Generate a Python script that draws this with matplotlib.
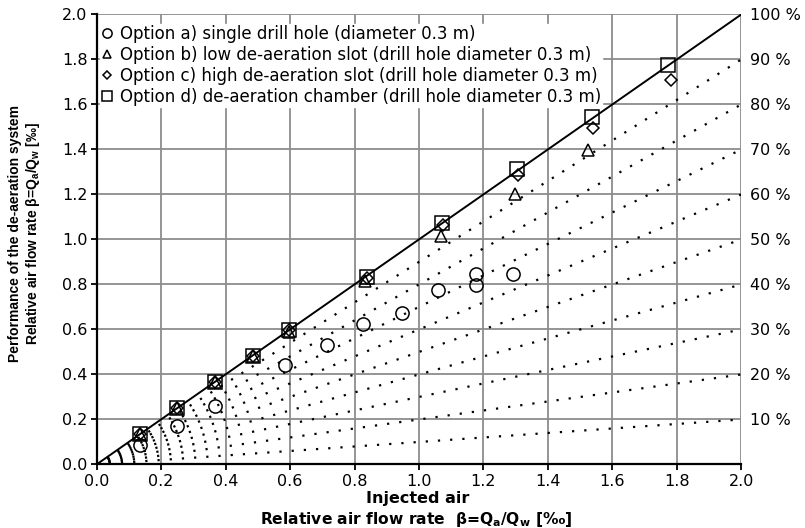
import matplotlib
matplotlib.use('Agg')
import matplotlib.pyplot as plt

plt.rcParams['font.family'] = ['DejaVu Sans']
plt.rcParams['mathtext.default'] = 'regular'

# option a) single drill hole
a_x = [0.135, 0.25, 0.367, 0.585, 0.714, 0.827, 0.946, 1.06, 1.176, 1.176, 1.29]
a_y = [0.087, 0.172, 0.261, 0.442, 0.531, 0.623, 0.675, 0.776, 0.847, 0.798, 0.847]
# option b) low de-aeration slot
b_x = [0.135, 0.25, 0.367, 0.486, 0.597, 0.833, 1.068, 1.298, 1.525]
b_y = [0.136, 0.252, 0.368, 0.482, 0.59, 0.813, 1.016, 1.202, 1.398]
# option c) high de-aeration slot
c_x = [0.135, 0.25, 0.367, 0.486, 0.597, 0.84, 1.075, 1.308, 1.54, 1.78]
c_y = [0.136, 0.252, 0.368, 0.482, 0.598, 0.83, 1.064, 1.287, 1.494, 1.706]
# option d) de-aeration chamber
d_x = [0.135, 0.25, 0.367, 0.486, 0.597, 0.84, 1.07, 1.303, 1.535, 1.773]
d_y = [0.136, 0.252, 0.368, 0.482, 0.598, 0.835, 1.072, 1.313, 1.543, 1.776]

labels = ['Option a) single drill hole (diameter 0.3 m)',
          'Option b) low de-aeration slot (drill hole diameter 0.3 m)',
          'Option c) high de-aeration slot (drill hole diameter 0.3 m)',
          'Option d) de-aeration chamber (drill hole diameter 0.3 m)']

ratios = [0.1, 0.2, 0.3, 0.4, 0.5, 0.6, 0.7, 0.8, 0.9]
right_ticks = [0.2, 0.4, 0.6, 0.8, 1.0, 1.2, 1.4, 1.6, 1.8, 2.0]
right_labels = ['10 %', '20 %', '30 %', '40 %', '50 %', '60 %', '70 %', '80 %', '90 %', '100 %']

fig = plt.figure(figsize=(8.05, 5.28), dpi=100)
ax = fig.add_axes([0.1199, 0.1203, 0.8012, 0.8526])

ax.set_xlim(0, 2.0)
ax.set_ylim(0, 2.0)
ticks = [0.0, 0.2, 0.4, 0.6, 0.8, 1.0, 1.2, 1.4, 1.6, 1.8, 2.0]
ax.set_xticks(ticks)
ax.set_yticks(ticks)
ax.set_xticklabels(['%.1f' % t for t in ticks])
ax.set_yticklabels(['%.1f' % t for t in ticks])
ax.grid(True, color='#8c8c8c', linewidth=1.3)
ax.set_axisbelow(True)
for s in ['top', 'right']:
    ax.spines[s].set_visible(False)
for s in ['left', 'bottom']:
    ax.spines[s].set_linewidth(1.6)
ax.tick_params(direction='out', length=4.5, width=1.3, labelsize=11.5, pad=2)

# dotted lines of constant performance
for r in ratios:
    ax.plot([0, 2.0], [0, 2.0 * r], color='black', linestyle=(0, (1, 4.5)),
            linewidth=1.6, zorder=2)
ax.plot([0, 2.0], [0, 2.0], color='black', linewidth=1.4, zorder=2)

mk = dict(linestyle='none', markerfacecolor='none', markeredgecolor='black',
          markeredgewidth=1.1, zorder=4)
ha = ax.plot(a_x, a_y, marker='o', markersize=9.5, label=labels[0], **mk)[0]
hb = ax.plot(b_x, b_y, marker='^', markersize=9, label=labels[1], **mk)[0]
hc = ax.plot(c_x, c_y, marker='D', markersize=6.5, label=labels[2], **mk)[0]
hd = ax.plot(d_x, d_y, marker='s', markersize=10.5, label=labels[3], **mk)[0]

leg = ax.legend(handles=[ha, hb, hc, hd], loc='upper left',
                bbox_to_anchor=(0.0, 0.985), fontsize=12, frameon=True,
                fancybox=False, edgecolor='white', framealpha=1,
                handlelength=0.7, handletextpad=0.45, borderpad=0.05,
                borderaxespad=0.2, labelspacing=0.17, markerscale=0.7)
leg.set_zorder(5)

ax2 = ax.twinx()
ax2.set_ylim(0, 2.0)
ax2.set_yticks(right_ticks)
ax2.set_yticklabels(right_labels)
ax2.tick_params(length=0, labelsize=11.5, pad=6)
for s in ax2.spines.values():
    s.set_visible(False)

fig.text(0.519, 0.056, 'Injected air', ha='center', va='center',
         fontsize=11.5, fontweight='bold')
fig.text(0.517, 0.017, 'Relative air flow rate  β=Q$_a$/Q$_w$ [‰]', ha='center',
         va='center', fontsize=11.2, fontweight='bold')
fig.text(0.019, 0.557, 'Performance of the de-aeration system', rotation=90,
         ha='center', va='center', fontsize=10, fontweight='bold',
         family=['Liberation Sans'])
fig.text(0.041, 0.557, 'Relative air flow rate β=Q$_a$/Q$_w$ [‰]', rotation=90,
         ha='center', va='center', fontsize=10, fontweight='bold',
         family=['Liberation Sans'])

fig.savefig('out.png', dpi=100)
